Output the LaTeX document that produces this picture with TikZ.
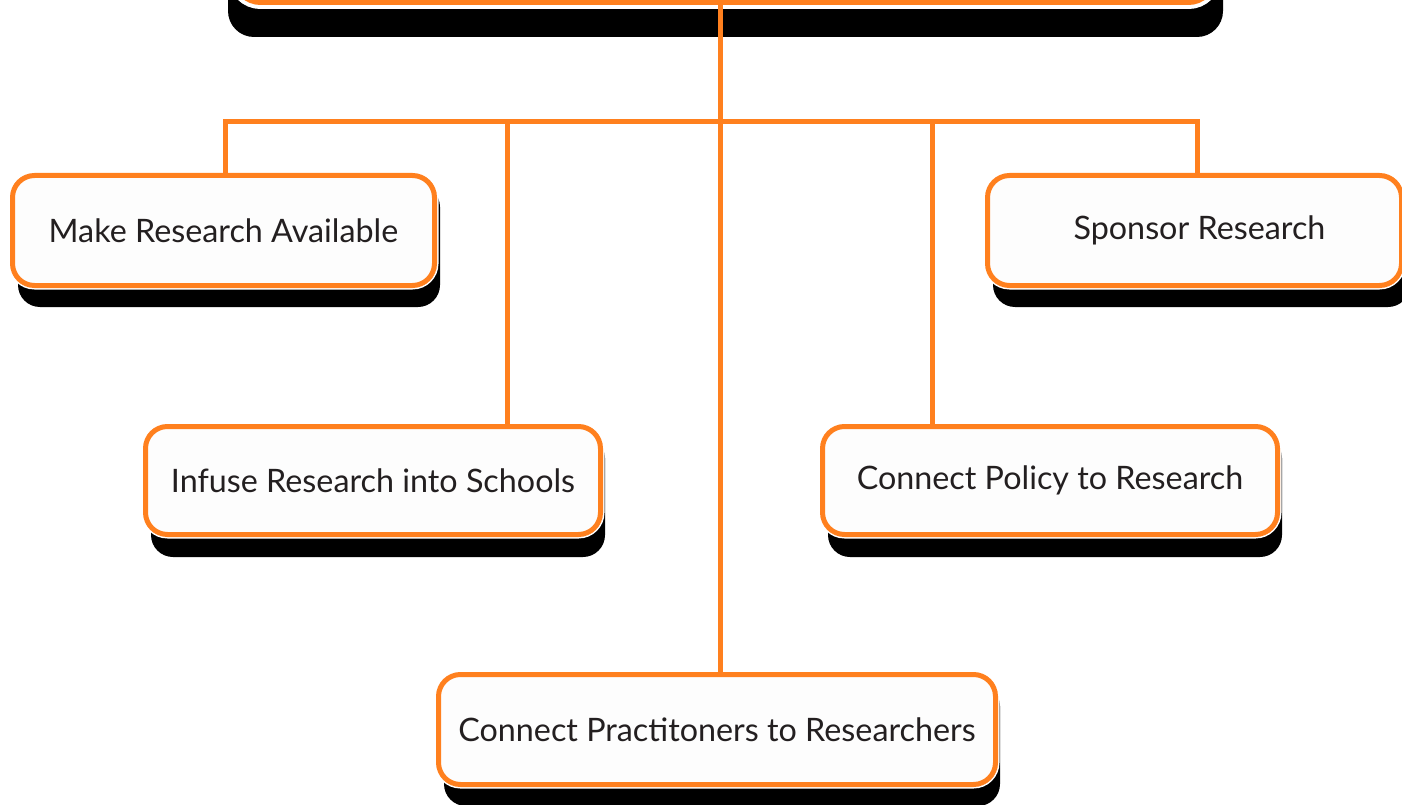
\documentclass[tikz,border=0pt]{standalone}
\usepackage{fontspec}
\setmainfont{Lato}
\definecolor{orng}{RGB}{255,128,30}
\definecolor{txt}{RGB}{35,31,32}
\definecolor{boxfill}{RGB}{253,253,253}
\tikzset{
  box/.style={rounded corners=22pt, draw=orng, line width=5pt, fill=boxfill,
    preaction={draw=white, line width=8pt}, outer sep=0pt, inner sep=0pt,
    minimum height=110pt, text=txt, font=\fontsize{32.3}{38}\selectfont},
  shade/.style={fill=black, rounded corners=22pt},
  conn/.style={draw=orng, line width=5pt}
}
\begin{document}
\begin{tikzpicture}[x=1pt,y=-1pt]
\useasboundingbox (0,0) rectangle (1402,805);
\fill[white] (0,0) rectangle (1402,805);
% shadows
\fill[shade, rounded corners=26pt] (228,-120) rectangle (1223,37);
\fill[shade] (18,185) rectangle (440,307);
\fill[shade] (993,185) rectangle (1410,307);
\fill[shade] (151,436) rectangle (605,557);
\fill[shade] (828,436) rectangle (1282,557);
\fill[shade] (444,684) rectangle (1000,806);
% boxes
\node[box, rounded corners=26pt, minimum width=980pt, minimum height=100pt,
  preaction={draw=white, line width=13pt}] (top) at (724.5,-47.5) {};
\node[box, minimum width=422pt] (make) at (223.5,230.5) {Make Research Available};
\node[box, minimum width=414pt] (sponsor) at (1194.5,230.5) {\hspace*{10pt}Sponsor Research};
\node[box, minimum width=455pt, minimum height=108pt] (infuse) at (373,480.5) {Infuse Research into Schools};
\node[box, minimum width=455pt, minimum height=108pt] (policy) at (1050,480.5) {Connect Policy to Research};
\node[box, minimum width=557pt] (prac) at (717,729.5) {Connect Practitoners to Researchers};
% connectors
\coordinate (hub) at (720,122);
\coordinate (jl) at (225,122);
\coordinate (jr) at (1197,122);
\coordinate (j1) at (507,122);
\coordinate (j2) at (932,122);
\draw[conn] (hub |- top.south) -- (hub |- prac.north);
\draw[conn] (jl |- make.north) -- (jl) -- (jr) -- (jr |- sponsor.north);
\draw[conn] (j1) -- (j1 |- infuse.north);
\draw[conn] (j2) -- (j2 |- policy.north);
\end{tikzpicture}
\end{document}
